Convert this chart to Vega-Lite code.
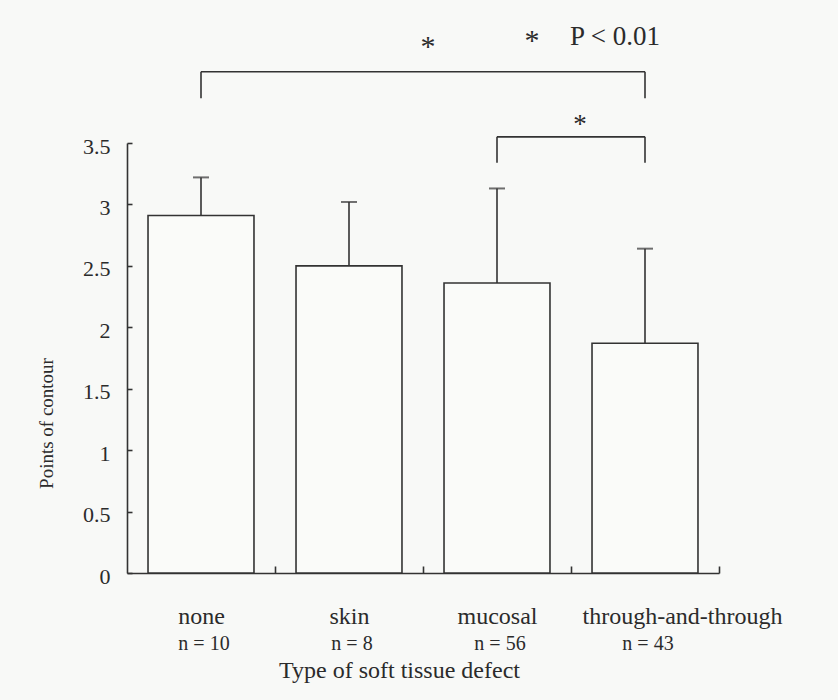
{
  "$schema": "https://vega.github.io/schema/vega-lite/v6.json",
  "width": 592,
  "height": 430,
  "autosize": {"type": "none"},
  "padding": {"left": 127, "top": 143, "right": 119, "bottom": 127},
  "background": "#f8f9f7",
  "config": {
    "view": {"stroke": null},
    "font": "Liberation Serif",
    "axis": {
      "grid": false,
      "domainColor": "#333333",
      "domainWidth": 1.6,
      "tickColor": "#333333",
      "tickWidth": 1.6,
      "labelColor": "#2b2b2b",
      "titleColor": "#2b2b2b",
      "labelFont": "Liberation Serif",
      "titleFont": "Liberation Serif",
      "titleFontWeight": "normal"
    }
  },
  "datasets": {
    "groups": [
      {"type": "none", "n": "n = 10", "mean": 2.91, "upper": 3.22},
      {"type": "skin", "n": "n = 8", "mean": 2.50, "upper": 3.02},
      {"type": "mucosal", "n": "n = 56", "mean": 2.36, "upper": 3.13},
      {"type": "through-and-through", "n": "n = 43", "mean": 1.87, "upper": 2.64}
    ],
    "spans": [
      {"type": "none", "to": "through-and-through", "level": 4.08},
      {"type": "mucosal", "to": "through-and-through", "level": 3.55}
    ],
    "legs": [
      {"type": "none", "top": 4.08, "bottom": 3.865},
      {"type": "through-and-through", "top": 4.08, "bottom": 3.865},
      {"type": "mucosal", "top": 3.55, "bottom": 3.34},
      {"type": "through-and-through", "top": 3.55, "bottom": 3.34}
    ],
    "notes": [
      {"id": "a", "label": "*", "type": "skin", "level": 4.21},
      {"id": "b", "label": "*", "type": "mucosal", "level": 4.26},
      {"id": "c", "label": "P < 0.01", "type": "mucosal", "level": 4.30},
      {"id": "d", "label": "*", "type": "mucosal", "level": 3.58}
    ]
  },
  "encoding": {
    "x": {
      "field": "type",
      "type": "nominal",
      "sort": null,
      "scale": {"domain": ["none", "skin", "mucosal", "through-and-through"], "paddingInner": 0.284, "paddingOuter": 0.142},
      "axis": {
        "title": "Type of soft tissue defect",
        "titleFontSize": 24,
        "titleX": 272,
        "titleY": 104,
        "titleBaseline": "alphabetic",
        "labelFontSize": 24,
        "labelAngle": 0,
        "labelBaseline": "alphabetic",
        "labelPadding": 57,
        "labelLimit": 0,
        "bandPosition": 1,
        "tickExtra": false,
        "tickOffset": 21,
        "labelOffset": {"condition": {"test": "datum.value == 'through-and-through'", "value": 16}, "value": -21},
        "tickSize": -7
      }
    },
    "y": {
      "field": "mean",
      "type": "quantitative",
      "title": "Points of contour",
      "scale": {"domain": [0, 3.5], "nice": false, "zero": true},
      "axis": {
        "values": [0, 0.5, 1, 1.5, 2, 2.5, 3, 3.5],
        "labelExpr": "'' + datum.value",
        "labelFontSize": 22,
        "labelPadding": 22,
        "labelOffset": 3,
        "tickSize": -5,
        "titleFontSize": 19,
        "titleX": -81,
        "titleY": 280,
        "titleBaseline": "middle",
        "titleAlign": "center"
      }
    }
  },
  "layer": [
    {
      "data": {"name": "groups"},
      "mark": {"type": "rule", "color": "#333333", "strokeWidth": 1.6},
      "encoding": {"y2": {"field": "upper"}}
    },
    {
      "data": {"name": "groups"},
      "mark": {"type": "bar", "fill": "#fafbf9", "stroke": "#333333", "strokeWidth": 1.6},
      "encoding": {}
    },
    {
      "data": {"name": "groups"},
      "mark": {"type": "tick", "color": "#333333", "size": 16, "thickness": 2},
      "encoding": {"y": {"field": "upper", "type": "quantitative", "title": "Points of contour"}}
    },
    {
      "data": {"name": "groups"},
      "mark": {"type": "text", "fontSize": 20, "color": "#2b2b2b", "baseline": "alphabetic", "dx": 3},
      "encoding": {"y": {"datum": -0.627, "type": "quantitative"}, "text": {"field": "n"}}
    },
    {
      "data": {"name": "spans"},
      "mark": {"type": "rule", "color": "#333333", "strokeWidth": 1.6},
      "encoding": {"x2": {"field": "to"}, "y": {"field": "level", "type": "quantitative", "title": "Points of contour"}}
    },
    {
      "data": {"name": "legs"},
      "mark": {"type": "rule", "color": "#333333", "strokeWidth": 1.6},
      "encoding": {"y": {"field": "top", "type": "quantitative", "title": "Points of contour"}, "y2": {"field": "bottom"}}
    },
    {
      "data": {"name": "notes"},
      "transform": [{"filter": "datum.id == 'a'"}],
      "mark": {"type": "text", "fontSize": 30, "color": "#2b2b2b", "baseline": "alphabetic", "dx": 79},
      "encoding": {"y": {"field": "level", "type": "quantitative", "title": "Points of contour"}, "text": {"field": "label"}}
    },
    {
      "data": {"name": "notes"},
      "transform": [{"filter": "datum.id == 'b'"}],
      "mark": {"type": "text", "fontSize": 30, "color": "#2b2b2b", "baseline": "alphabetic", "dx": 35},
      "encoding": {"y": {"field": "level", "type": "quantitative", "title": "Points of contour"}, "text": {"field": "label"}}
    },
    {
      "data": {"name": "notes"},
      "transform": [{"filter": "datum.id == 'c'"}],
      "mark": {"type": "text", "fontSize": 27, "color": "#2b2b2b", "baseline": "alphabetic", "align": "left", "dx": 73},
      "encoding": {"y": {"field": "level", "type": "quantitative", "title": "Points of contour"}, "text": {"field": "label"}}
    },
    {
      "data": {"name": "notes"},
      "transform": [{"filter": "datum.id == 'd'"}],
      "mark": {"type": "text", "fontSize": 27, "color": "#2b2b2b", "baseline": "alphabetic", "dx": 83},
      "encoding": {"y": {"field": "level", "type": "quantitative", "title": "Points of contour"}, "text": {"field": "label"}}
    }
  ]
}
